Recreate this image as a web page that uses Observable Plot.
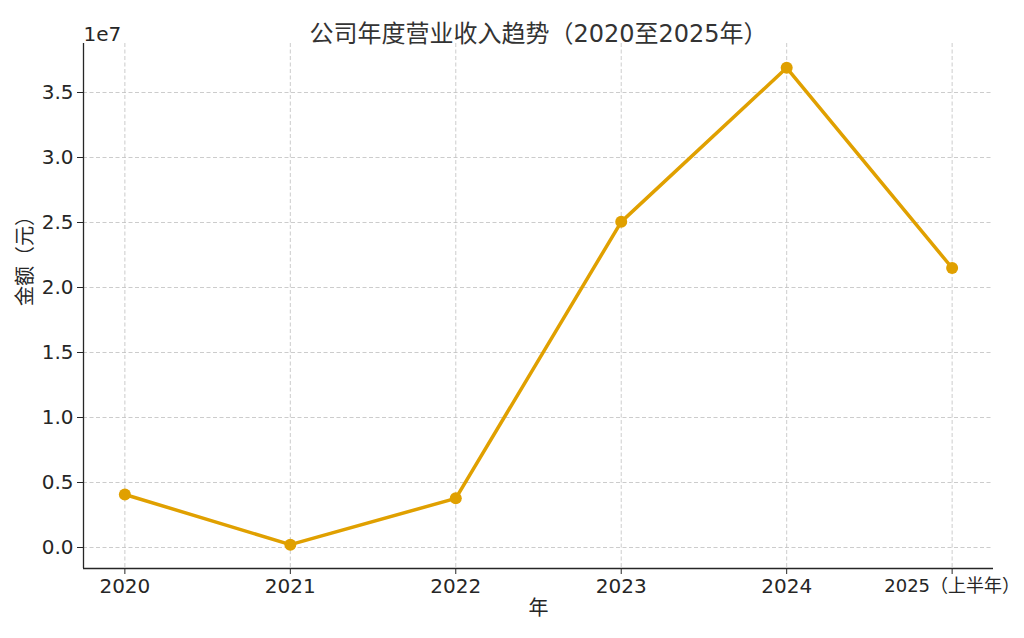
<!DOCTYPE html>
<html>
<head>
<meta charset="utf-8">
<script src="https://cdn.jsdelivr.net/npm/d3@7"></script>
<script src="https://cdn.jsdelivr.net/npm/@observablehq/plot@0.6"></script>
<style>
  html, body { margin: 0; padding: 0; background: white; }
</style>
</head>
<body>
<div id="chart"></div>
<script>
const years = [2020, 2021, 2022, 2023, 2024, 2025];
const xTickLabels = ["2020", "2021", "2022", "2023", "2024", "2025（上半年）"];
const values = [4.08e6, 0.22e6, 3.78e6, 2.505e7, 3.69e7, 2.15e7];
const yTicks = [0, 0.5e7, 1.0e7, 1.5e7, 2.0e7, 2.5e7, 3.0e7, 3.5e7];
const titleText = "公司年度营业收入趋势（2020至2025年）";
const yLabel = "金额（元）";
const xLabel = "年";
const expLabel = "1e7";

const data = years.map((y, i) => ({year: y, value: values[i]}));
const xDomain = [2019.75, 2025.25];
const yDomain = [-0.1615e7, 3.877e7];
const font = "DejaVu Sans, 'Noto Sans CJK SC', sans-serif";
const ink = "#262626";
const lineColor = "#E0A000";
const fmtX = d => xTickLabels[years.indexOf(d)];

const chart = Plot.plot({
  width: 1024,
  height: 638,
  marginTop: 43,
  marginRight: 31,
  marginBottom: 70,
  marginLeft: 83,
  style: {fontFamily: font, fontSize: "20px", color: ink, background: "white"},
  x: {domain: xDomain, label: null},
  y: {domain: yDomain, label: null},
  marks: [
    Plot.gridX(years, {stroke: "#b0b0b0", strokeOpacity: 0.65, strokeDasharray: "4,2.5", strokeWidth: 1}),
    Plot.gridY(yTicks, {stroke: "#b0b0b0", strokeOpacity: 0.65, strokeDasharray: "4,2.5", strokeWidth: 1}),
    Plot.axisX(years.slice(0, 5), {
      tickFormat: fmtX, tickSize: 6, tickPadding: 4, fontSize: 20, label: null, stroke: ink
    }),
    Plot.axisX(years.slice(5), {
      tickFormat: fmtX, tickSize: 6, tickPadding: 5, fontSize: 18, label: null, stroke: ink
    }),
    Plot.axisY(yTicks, {
      tickFormat: d => (d / 1e7).toFixed(1),
      tickSize: 6, tickPadding: 4, fontSize: 20, label: null, stroke: ink
    }),
    Plot.ruleX([xDomain[0]], {stroke: ink, strokeWidth: 1.3}),
    Plot.ruleY([yDomain[0]], {stroke: ink, strokeWidth: 1.3}),
    Plot.line(data, {x: "year", y: "value", stroke: lineColor, strokeWidth: 3.5}),
    Plot.dot(data, {x: "year", y: "value", fill: lineColor, r: 6}),
    Plot.text([titleText], {frameAnchor: "top", dy: -19, fontSize: 24, fill: "#333"}),
    Plot.text([expLabel], {frameAnchor: "top-left", textAnchor: "start", lineAnchor: "bottom", dy: -3, fontSize: 20, fill: ink}),
    Plot.text([yLabel], {frameAnchor: "left", rotate: -90, dx: -58, fontSize: 20, fill: ink}),
    Plot.text([xLabel], {frameAnchor: "bottom", dy: 46, fontSize: 20, fill: ink})
  ]
});
document.getElementById("chart").appendChild(chart);
</script>
</body>
</html>
